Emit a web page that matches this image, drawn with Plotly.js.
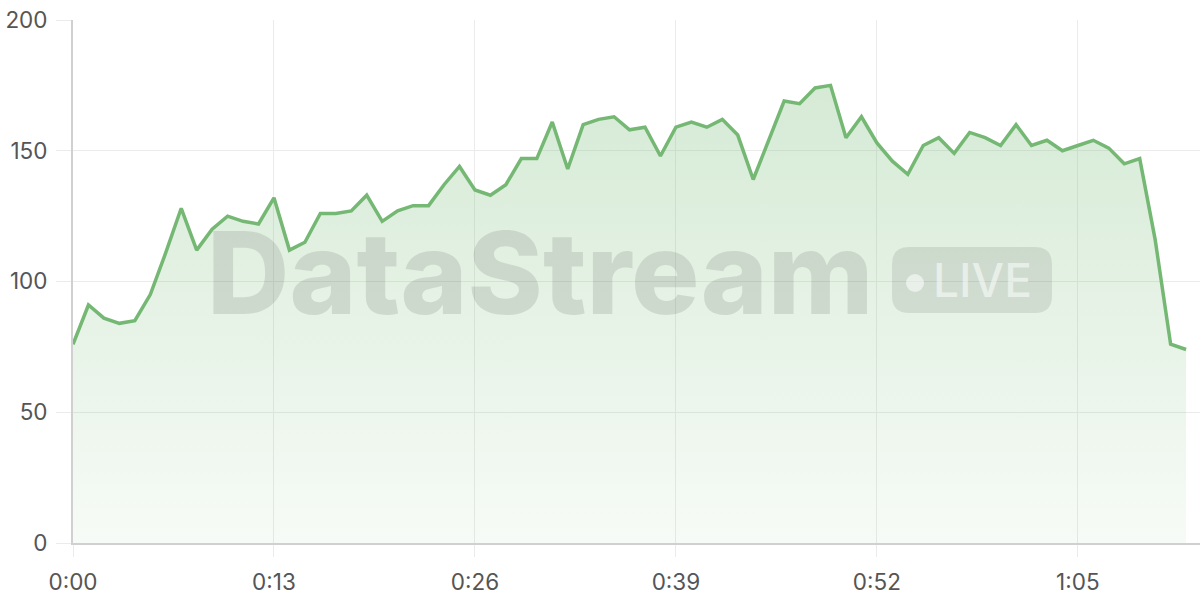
<!DOCTYPE html>
<html>
<head>
<meta charset="utf-8">
<script src="https://cdn.plot.ly/plotly-3.0.1.min.js"></script>
<style>
html,body{margin:0;padding:0;background:#fff;}
#chart{width:1200px;height:600px;}
</style>
</head>
<body>
<div id="chart"></div>
<script>
// Data
const seconds = [0,1,2,3,4,5,6,7,8,9,10,11,12,13,14,15,16,17,18,19,20,21,22,23,24,25,26,27,28,29,30,31,32,33,34,35,36,37,38,39,40,41,42,43,44,45,46,47,48,49,50,51,52,53,54,55,56,57,58,59,60,61,62,63,64,65,66,67,68,69,70,71,72];
const values = [76,91,86,84,85,95,111,128,112,120,125,123,122,132,112,115,126,126,127,133,123,127,129,129,137,144,135,133,137,147,147,161,143,160,162,163,158,159,148,159,161,159,162,156,139,154,169,168,174,175,155,163,153,146,141,152,155,149,157,155,152,160,152,154,150,152,154,151,145,147,116,76,74];
const tickSeconds = [0,13,26,39,52,65];
const tickLabels = ["0:00","0:13","0:26","0:39","0:52","1:05"];
const yTicks = [0,50,100,150,200];

const lineColor = '#74b874';

const trace = {
  x: seconds,
  y: values,
  type: 'scatter',
  mode: 'lines',
  line: {color: lineColor, width: 3.5, shape: 'linear'},
  fill: 'tozeroy',
  fillgradient: {
    type: 'vertical',
    colorscale: [[0, 'rgba(116,185,116,0.06)'], [1, 'rgba(116,185,116,0.30)']]
  },
  hoverinfo: 'skip'
};

// plot-area helpers (paper coords from pixel positions)
const L = 73, R = 1200, T = 20, B = 543;
const px = v => (v - L) / (R - L);
const py = v => (B - v) / (B - T);

function roundRect(x0, y0, x1, y1, r) {
  const X = px, Y = py;
  return 'M' + X(x0 + r) + ',' + Y(y0) +
    ' L' + X(x1 - r) + ',' + Y(y0) +
    ' Q' + X(x1) + ',' + Y(y0) + ' ' + X(x1) + ',' + Y(y0 + r) +
    ' L' + X(x1) + ',' + Y(y1 - r) +
    ' Q' + X(x1) + ',' + Y(y1) + ' ' + X(x1 - r) + ',' + Y(y1) +
    ' L' + X(x0 + r) + ',' + Y(y1) +
    ' Q' + X(x0) + ',' + Y(y1) + ' ' + X(x0) + ',' + Y(y1 - r) +
    ' L' + X(x0) + ',' + Y(y0 + r) +
    ' Q' + X(x0) + ',' + Y(y0) + ' ' + X(x0 + r) + ',' + Y(y0) + ' Z';
}

const layout = {
  width: 1200,
  height: 600,
  margin: {l: L, r: 1200 - R, t: T, b: 600 - B},
  paper_bgcolor: '#ffffff',
  plot_bgcolor: '#ffffff',
  showlegend: false,
  font: {family: 'Inter, "Noto Sans", sans-serif', color: '#555555'},
  xaxis: {
    range: [0, 72.9],
    tickmode: 'array',
    tickvals: tickSeconds,
    ticktext: tickLabels,
    showgrid: true,
    gridcolor: '#ebebeb',
    gridwidth: 1,
    zeroline: false,
    showline: true,
    linecolor: '#d0d0d0',
    linewidth: 2,
    ticks: 'outside',
    ticklen: 12,
    tickwidth: 1,
    tickcolor: '#ebebeb',
    tickfont: {size: 22.5, color: '#555555'},
    ticklabelstandoff: 6,
    fixedrange: true
  },
  yaxis: {
    range: [0, 200],
    tickmode: 'array',
    tickvals: yTicks,
    showgrid: true,
    gridcolor: '#ebebeb',
    gridwidth: 1,
    zeroline: false,
    showline: true,
    linecolor: '#d0d0d0',
    linewidth: 2,
    ticks: 'outside',
    ticklen: 15,
    tickwidth: 1,
    tickcolor: '#ebebeb',
    tickfont: {size: 22.5, color: '#555555'},
    ticklabelstandoff: 4,
    fixedrange: true
  },
  shapes: [
    {
      type: 'path', xref: 'paper', yref: 'paper',
      path: roundRect(892, 247, 1052, 313, 17),
      fillcolor: 'rgba(0,0,0,0.09)', line: {width: 0}, layer: 'above'
    },
    {
      type: 'circle', xref: 'paper', yref: 'paper',
      x0: px(906), x1: px(924), y0: py(292), y1: py(274),
      fillcolor: 'rgba(255,255,255,0.55)', line: {width: 0}, layer: 'above'
    }
  ],
  annotations: [
    {
      text: 'DataStream', xref: 'paper', yref: 'paper',
      x: px(540), y: py(272), xanchor: 'center', yanchor: 'middle',
      showarrow: false,
      font: {family: 'Inter, "Noto Sans", sans-serif', size: 114, weight: 800, color: 'rgba(0,0,0,0.10)'}
    },
    {
      text: 'LIVE', xref: 'paper', yref: 'paper',
      x: px(982), y: py(280), xanchor: 'center', yanchor: 'middle',
      showarrow: false,
      font: {family: 'Inter, "Noto Sans", sans-serif', size: 46, weight: 500, color: 'rgba(255,255,255,0.55)'}
    }
  ]
};

Plotly.newPlot('chart', [trace], layout, {displayModeBar: false, staticPlot: true});
</script>
</body>
</html>
